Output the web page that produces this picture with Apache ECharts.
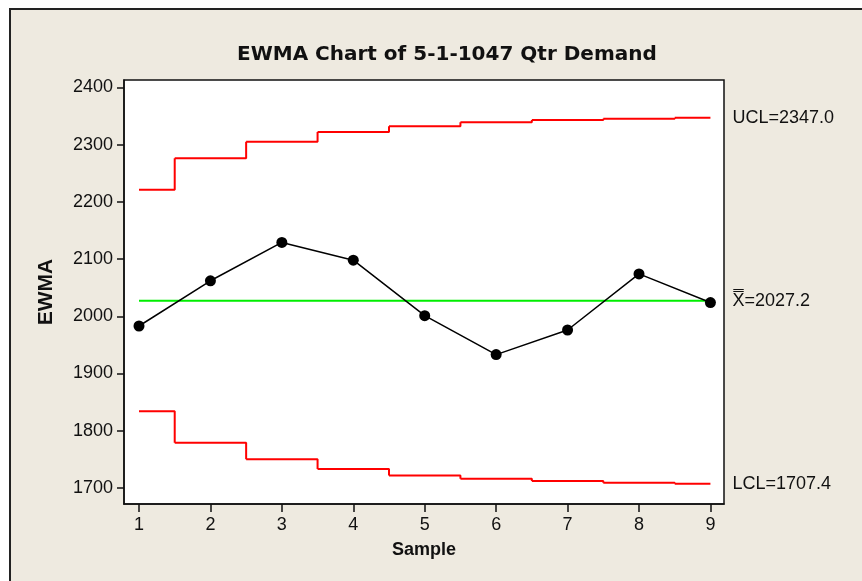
<!DOCTYPE html>
<html>
<head>
<meta charset="utf-8">
<script src="https://cdn.jsdelivr.net/npm/echarts@6/dist/echarts.min.js"></script>
<style>
  html, body { margin: 0; padding: 0; background: #ffffff; }
  #frame { position: absolute; left: 9px; top: 8px; width: 900px; height: 700px;
           background: #EEEAE0; border: 2px solid #222; box-sizing: border-box; }
  #chart { position: absolute; left: 0; top: 0; width: 862px; height: 581px; }
</style>
</head>
<body>
<div id="frame"></div>
<div id="chart"></div>
<script>
// ---- data ----
const samples = [1, 2, 3, 4, 5, 6, 7, 8, 9];
const ewmaValues = [1983, 2062, 2129, 2098, 2001, 1933, 1976, 2074, 2024];
const uclValues = [2221, 2276, 2305, 2322, 2332, 2339, 2343, 2345, 2347.0];
const lclValues = [1834, 1779, 1750, 1733, 1722, 1716, 1712, 1709, 1707.4];
const centerValue = 2027.2;
const yTicks = [1700, 1800, 1900, 2000, 2100, 2200, 2300, 2400];
const xTicks = [1, 2, 3, 4, 5, 6, 7, 8, 9];
const uclText = 'UCL=2347.0';
const lclText = 'LCL=1707.4';
const centerText = 'X\u033F=2027.2';

const pairs = (vals) => samples.map((s, i) => [s, vals[i]]);
// step line: each limit value holds from half a sample before to half a sample after its sample;
// every level is drawn as its own piece (level + riser to the next level)
const stepPairs = (vals) => {
  const first = samples[0], last = samples[samples.length - 1];
  const out = [];
  samples.forEach((s, i) => {
    const x0 = Math.max(first, s - 0.5), x1 = Math.min(last, s + 0.5);
    out.push([x0, vals[i]]);
    out.push([x1, vals[i]]);
    if (i < samples.length - 1) {
      out.push([x1, vals[i + 1]]);
      out.push('-');
    }
  });
  return out;
};
const centerLine = samples.map(s => [s, centerValue]);

const labelFont = { fontFamily: 'Liberation Sans', fontSize: 18, color: '#111' };

const chart = echarts.init(document.getElementById('chart'));
chart.setOption({
  animation: false,
  backgroundColor: 'transparent',
  title: {
    text: 'EWMA Chart of 5-1-1047 Qtr Demand',
    left: 232, top: 40,
    textStyle: { fontFamily: 'DejaVu Sans', fontWeight: 'bold', fontSize: 20, color: '#111' }
  },
  grid: {
    left: 124, top: 80, right: 138, bottom: 77,
    show: true, backgroundColor: '#ffffff', borderColor: '#111', borderWidth: 1.5,
    outerBoundsMode: 'none'
  },
  xAxis: {
    type: 'value', min: 0.79, max: 9.19,
    name: 'Sample', nameLocation: 'middle', nameGap: 37,
    nameTextStyle: { fontFamily: 'Liberation Sans', fontWeight: 'bold', fontSize: 18, color: '#111' },
    axisLine: { show: true, lineStyle: { color: '#111', width: 1.5 } },
    axisTick: { show: true, inside: false, length: 8, lineStyle: { color: '#111', width: 1.5 }, customValues: xTicks },
    axisLabel: Object.assign({ margin: 12, customValues: xTicks, formatter: v => String(v) }, labelFont),
    splitLine: { show: false }
  },
  yAxis: {
    type: 'value', min: 1672, max: 2412.8,
    name: 'EWMA', nameLocation: 'middle', nameGap: 67, nameRotate: 90,
    nameTextStyle: { fontFamily: 'Liberation Sans', fontWeight: 'bold', fontSize: 21, color: '#111' },
    axisLine: { show: true, lineStyle: { color: '#111', width: 1.5 } },
    axisTick: { show: true, inside: false, length: 7, lineStyle: { color: '#111', width: 1.5 }, customValues: yTicks },
    axisLabel: Object.assign({ margin: 11, customValues: yTicks, formatter: v => String(v) }, labelFont),
    splitLine: { show: false }
  },
  series: [
    {
      type: 'line', data: stepPairs(uclValues), symbol: 'none', connectNulls: false,
      lineStyle: { color: '#ff0000', width: 2 }, z: 2,
      endLabel: Object.assign({ show: true, formatter: uclText, distance: 22 }, labelFont)
    },
    {
      type: 'line', data: stepPairs(lclValues), symbol: 'none', connectNulls: false,
      lineStyle: { color: '#ff0000', width: 2 }, z: 2,
      endLabel: Object.assign({ show: true, formatter: lclText, distance: 22 }, labelFont)
    },
    {
      type: 'line', data: centerLine, symbol: 'none',
      lineStyle: { color: '#00ee00', width: 2 }, z: 2,
      endLabel: Object.assign({ show: true, formatter: centerText, distance: 22 }, labelFont)
    },
    {
      type: 'line', data: pairs(ewmaValues), symbol: 'circle', symbolSize: 11,
      itemStyle: { color: '#000' }, lineStyle: { color: '#000', width: 1.5 }, z: 3
    }
  ]
});
</script>
</body>
</html>
